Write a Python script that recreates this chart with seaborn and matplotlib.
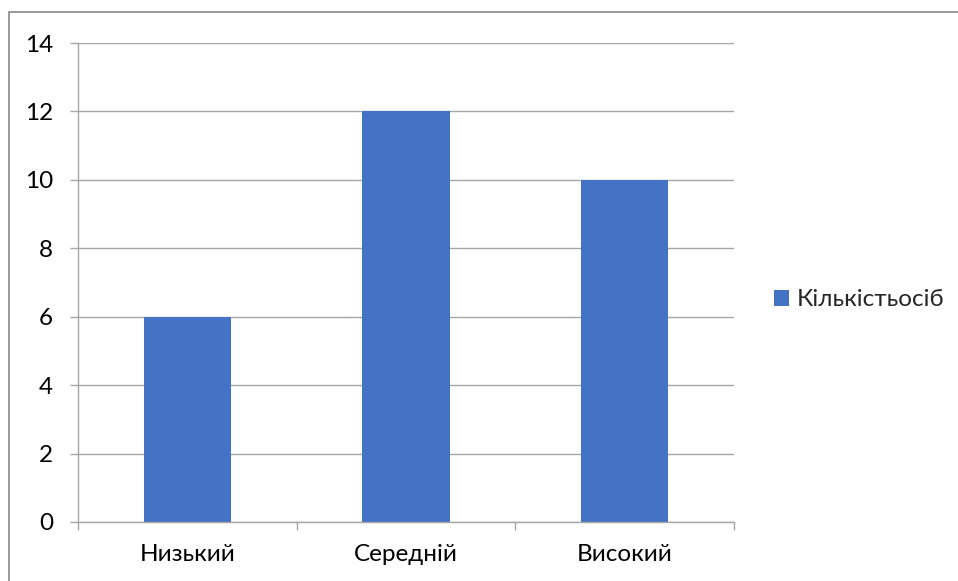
import matplotlib
matplotlib.use("Agg")
import matplotlib.pyplot as plt
import matplotlib.patches as mpatches
import seaborn as sns
import pandas as pd

# data
categories = ["Низький", "Середній", "Високий"]
counts = [6, 12, 10]
series_name = "Кількістьосіб"
y_ticks = [0, 2, 4, 6, 8, 10, 12, 14]

BAR_COLOR = "#4472C4"
GRID_COLOR = "#A6A6A6"
FS = 17.5

sns.set_style("white")
plt.rcParams["font.family"] = ["Lato", "DejaVu Sans"]

df = pd.DataFrame({"level": categories, "count": counts})

W, H = 958, 581
fig = plt.figure(figsize=(W / 100, H / 100), dpi=100)
ax = fig.add_axes([78 / W, 1 - 522 / H, (734 - 78) / W, (522 - 43) / H])

sns.barplot(data=df, x="level", y="count", color=BAR_COLOR, width=0.4,
            saturation=1, label=series_name, linewidth=0, ax=ax)

ax.set_ylim(0, 14)
ax.set_xlim(-0.5, len(categories) - 0.5)
ax.set_yticks(y_ticks)
ax.set_yticklabels([str(v) for v in y_ticks], fontsize=FS, color="#000000")
ax.set_xticks(range(len(categories)))
ax.set_xticklabels(categories, fontsize=FS, color="#000000")
ax.set_xlabel("")
ax.set_ylabel("")

# gridlines
ax.set_axisbelow(True)
ax.yaxis.grid(True, color=GRID_COLOR, linewidth=1.0)
ax.xaxis.grid(False)

# spines
for side in ["top", "right"]:
    ax.spines[side].set_visible(False)
for side in ["left", "bottom"]:
    ax.spines[side].set_color(GRID_COLOR)
    ax.spines[side].set_linewidth(1.0)

# ticks: y ticks out to the left, x ticks at category boundaries
ax.tick_params(axis="y", which="major", direction="out", length=6,
               width=1.0, color=GRID_COLOR, pad=12, left=True)
ax.tick_params(axis="x", which="major", length=0, pad=16)
ax.set_xticks([i - 0.5 for i in range(len(categories) + 1)], minor=True)
ax.tick_params(axis="x", which="minor", direction="out", length=6,
               width=1.0, color=GRID_COLOR, bottom=True)

# legend on the right
handles, labels = ax.get_legend_handles_labels()
if ax.get_legend() is not None:
    ax.get_legend().remove()
fig.legend(handles, labels, loc="center left",
           bbox_to_anchor=(774 / W, 1 - 300 / H), frameon=False,
           fontsize=FS, handlelength=0.62, handleheight=0.62,
           handletextpad=0.3, borderpad=0, borderaxespad=0)

# outer chart border (only top and left visible in the picture)
fig.patches.append(mpatches.Rectangle((9 / W, -0.05), 1.1, 1 - 12 / H + 0.05,
                                      transform=fig.transFigure, fill=False,
                                      edgecolor="#898989", linewidth=1.2))

fig.savefig("out.png", dpi=100)
